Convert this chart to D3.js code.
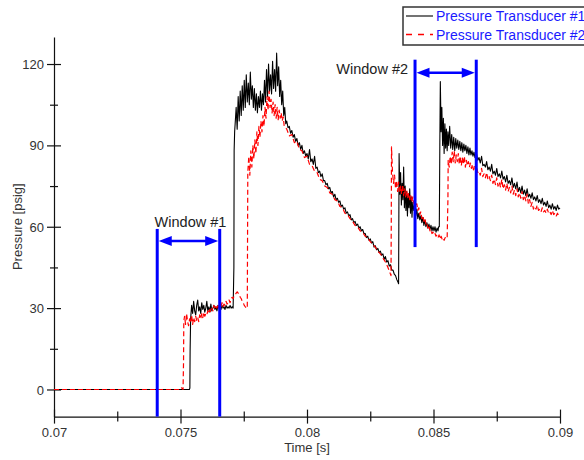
<!DOCTYPE html>
<html>
<head>
<meta charset="utf-8">
<script src="https://cdn.jsdelivr.net/npm/d3@7"></script>
<style>
  html, body { margin: 0; padding: 0; background: #fff; }
  svg { display: block; font-family: "Liberation Sans", Arial, sans-serif; }
</style>
</head>
<body>
<svg id="chart" width="584" height="460"></svg>
<script>
// Pressure traces [time (s), pressure (psig)]
const transducer1 = [
  [0.0700,0],[0.07535,0],[0.07537,0.5],[0.07538,14],[0.07540,26],
  [0.07544,31],[0.07548,28],[0.07552,32.5],[0.07556,29],[0.07560,27.5],[0.07564,31],[0.07568,33],
  [0.07572,29],[0.07576,30.5],[0.07580,28],[0.07584,32],[0.07588,29.5],[0.07592,31],[0.07596,28.5],
  [0.07600,30],[0.07604,32.5],[0.07608,29],[0.07612,30.5],[0.07616,28.5],[0.07620,31.5],[0.07624,29],
  [0.07628,30],[0.07632,31],[0.07636,29.5],[0.07640,30.5],[0.07644,29],[0.07648,31],[0.07652,30],
  [0.07656,30.5],[0.07660,29.5],[0.07664,31],[0.07668,30],[0.07672,30.5],[0.07676,29.5],[0.07680,31],
  [0.07684,30],[0.07688,30.5],[0.07692,30],[0.07696,31],[0.07700,30],[0.07704,30.5],[0.07708,30],
  [0.07711,45],[0.07712,88],[0.07714,95],
  [0.07716,98],[0.07720,104],[0.07724,96],[0.07728,108],[0.07732,99],[0.07736,110],[0.07740,101],
  [0.07744,112],[0.07748,103],[0.07752,114],[0.07756,104],[0.07760,116],[0.07764,106],[0.07768,113],
  [0.07772,105],[0.07776,117],[0.07780,107],[0.07784,112],[0.07788,104],[0.07792,111],[0.07796,103],
  [0.07800,109],[0.07804,102],[0.07808,108],[0.07812,104],[0.07816,110],[0.07820,103],[0.07824,109],
  [0.07828,105],[0.07832,114],[0.07836,106],[0.07840,118],[0.07844,108],[0.07848,120],[0.07852,110],
  [0.07856,116],[0.07860,109],[0.07864,121],[0.07868,111],[0.07872,118],[0.07876,110],[0.07880,124],
  [0.07884,112],[0.07888,119],[0.07892,108],[0.07896,114],[0.07900,105],[0.07904,110],[0.07908,101],
  [0.07912,104],[0.07916,98],
  [0.0792,99],[0.07925,96.5],[0.0793,97],[0.07935,94.5],[0.0794,95.5],[0.07945,93],[0.0795,94],
  [0.07955,91.5],[0.0796,92.5],[0.07965,90],[0.0797,91],[0.07975,88.5],[0.0798,90],[0.07985,87],
  [0.0799,88],[0.07995,86],[0.0800,87],[0.08005,85],[0.0801,88.5],[0.08015,84],[0.0802,85],
  [0.08025,83],[0.0803,86],[0.08035,81.5],[0.0804,82],[0.08045,80],[0.0805,80.5],[0.08055,78.5],
  [0.0806,79.5],[0.08065,77],[0.0807,77],[0.08075,75.5],[0.0808,76],[0.08085,74],[0.0809,74.5],
  [0.08095,72.5],[0.0810,73],[0.08105,71],[0.0811,72],[0.08115,70],[0.0812,70.5],[0.08125,69],
  [0.0813,69.5],[0.08135,67.5],[0.0814,68],[0.08145,66.5],[0.0815,67],[0.08155,65],[0.0816,65.5],
  [0.08165,64],[0.0817,64.5],[0.08175,62.5],[0.0818,63],[0.08185,61.5],[0.0819,62],[0.08195,60.5],
  [0.0820,61],[0.08205,59.5],[0.0821,60],[0.08215,58.5],[0.0822,59],[0.08225,57.5],[0.0823,57.5],
  [0.08235,56],[0.0824,56.5],[0.08245,55],[0.0825,55.5],[0.08255,54],[0.0826,54.5],[0.08265,52.5],
  [0.0827,53],[0.08275,51.5],[0.0828,52],[0.08285,50.5],[0.0829,51],[0.08295,49.5],[0.0830,50],
  [0.08305,48],[0.0831,49],[0.08315,47],[0.0832,47.5],[0.08325,45.5],[0.0833,46],[0.08335,44],
  [0.0834,44],[0.08345,42.5],[0.0835,42],[0.08355,40.5],[0.0836,39.5],[0.08362,39],
  [0.08363,60],[0.08364,87],[0.08367,72],[0.0837,80],[0.08373,68],[0.08376,76],[0.08379,70],
  [0.08382,82],[0.08385,67],[0.08388,75],[0.08391,66],[0.08394,73],[0.08397,64],[0.0840,72],
  [0.08403,67],[0.08406,74],[0.08409,65],[0.08412,71],[0.08415,63.5],[0.08418,69],[0.08422,66],
  [0.08426,68.5],[0.0843,64],[0.08434,66.5],[0.08438,63],[0.08442,65],[0.08446,62.5],[0.0845,64],
  [0.08454,61.5],[0.08458,63.5],[0.08462,60.5],[0.08466,62.5],[0.0847,60],[0.08474,61.5],
  [0.08478,59.5],[0.08482,61],[0.08486,59],[0.0849,60.5],[0.08494,58.5],[0.08498,60],[0.08502,58.5],
  [0.08506,60],[0.0851,58],[0.08514,59.5],[0.08518,58.5],[0.0852,60],
  [0.08523,60],[0.08525,90],[0.08527,113.5],[0.0853,95],[0.08533,104],[0.08536,90],[0.08539,100],
  [0.08542,87],[0.08545,98],[0.08548,89],[0.08551,96],[0.08554,88],[0.08557,95],[0.0856,90],
  [0.08564,97],[0.08568,89],[0.08572,94],[0.08576,88.5],[0.0858,93],[0.08584,88],[0.08588,92.5],
  [0.08592,89],[0.08596,92],[0.086,88.5],[0.08604,91.5],[0.08608,88],[0.08612,91],[0.08616,87.5],
  [0.0862,90.5],[0.08624,88],[0.08628,90],[0.08632,87],[0.08636,89.5],[0.0864,86.5],[0.08644,89],
  [0.08648,86.5],[0.08652,88],[0.08656,86],[0.0866,87.5],[0.08664,85.5],[0.0867,87],[0.08675,84.5],
  [0.0868,85.5],[0.08685,83.5],[0.0869,86],[0.08695,82.5],[0.0870,83],[0.08705,82],[0.0871,84],
  [0.08715,81],[0.0872,82],[0.08725,80.5],[0.0873,83],[0.08735,79.5],[0.0874,80.5],[0.08745,79],
  [0.0875,81.5],[0.08755,78.5],[0.0876,79.5],[0.08765,78],[0.0877,80.5],[0.08775,77.5],[0.0878,78.5],
  [0.08785,76.5],[0.0879,79],[0.08795,76],[0.0880,77],[0.08805,75.5],[0.0881,78],[0.08815,74.5],
  [0.0882,76],[0.08825,74],[0.0883,76.5],[0.08835,73],[0.0884,74.5],[0.08845,72.5],[0.0885,75],
  [0.08855,72],[0.0886,73.5],[0.08865,71.5],[0.0887,74],[0.08875,71],[0.0888,72],[0.08885,70.5],
  [0.0889,72.5],[0.08895,70],[0.0890,71],[0.08905,69.5],[0.0891,71.5],[0.08915,69],[0.0892,70],
  [0.08925,68.5],[0.0893,70.5],[0.08935,68],[0.0894,69],[0.08945,67.5],[0.0895,69.5],[0.08955,67],
  [0.0896,68],[0.08965,66.5],[0.0897,68.5],[0.08975,66.5],[0.0898,67.5],[0.08985,66],[0.0899,68],
  [0.08995,66.5],[0.0900,67]
];

const transducer2 = [
  [0.0700,0],[0.0750,0],[0.07504,0.6],[0.07508,0.3],[0.0751,0],[0.07512,10],[0.07513,25],
  [0.07516,27],[0.0752,24],[0.07524,28],[0.07528,25],[0.07532,23.5],[0.07536,26],[0.0754,24.5],
  [0.07544,27.5],[0.07548,24],[0.07552,26.5],[0.07556,25],[0.0756,27],[0.07564,25.5],[0.07568,26.5],
  [0.07572,25],[0.07576,27.5],[0.0758,26],[0.07584,28],[0.07588,26.5],[0.07592,28.5],[0.07596,27],
  [0.076,28],[0.07604,27.5],[0.07608,29],[0.07612,28],[0.07616,29.5],[0.0762,28.5],[0.07624,30],
  [0.07628,29],[0.07632,31],[0.07636,29.5],[0.0764,30.5],[0.07644,30],[0.07648,31.5],[0.07652,30],
  [0.07656,31],[0.0766,30.5],[0.07664,32],[0.07668,30.5],[0.07672,31.5],[0.07676,31],[0.0768,32.5],
  [0.07684,31.5],[0.07688,32],[0.07692,33],[0.07696,32],[0.077,33.5],[0.07704,34],[0.07708,33.5],
  [0.07712,34.5],[0.07716,35],[0.0772,35.5],[0.07724,36],[0.07728,35.5],[0.07732,35],[0.07736,34],
  [0.0774,33.5],[0.07744,32.5],[0.07748,32],[0.07752,31],[0.07756,30.5],[0.0776,30],
  [0.07764,30],[0.07765,55],[0.07766,80],[0.0777,86],[0.07774,79],[0.07778,88],[0.07782,82],
  [0.07786,90],[0.0779,85],[0.07794,92],[0.07798,87],[0.07802,95],[0.07806,90],[0.0781,97],
  [0.07814,93],[0.07818,99],[0.07822,95],[0.07826,101],[0.0783,97],[0.07834,104],[0.07838,100],
  [0.07842,108],[0.07846,103],[0.0785,110],[0.07854,104],[0.07858,107],[0.07862,102],[0.07866,106],
  [0.0787,101],[0.07874,105],[0.07878,100],[0.07882,104],[0.07886,99.5],[0.0789,103],[0.07894,100],
  [0.07898,102],[0.07902,99],[0.07906,100.5],[0.0791,97],
  [0.0792,96],[0.0793,93.5],[0.0794,94],[0.0795,91],[0.0796,91.5],[0.0797,88.5],[0.0798,88],
  [0.0799,85.5],[0.0800,86],[0.0801,83],[0.0802,82.5],[0.0803,80.5],[0.0804,80],[0.0805,77.5],
  [0.0806,77],[0.0807,75],[0.0808,74.5],[0.0809,72.5],[0.0810,72],[0.0811,70],[0.0812,69.5],
  [0.0813,67.5],[0.0814,67],[0.0815,65],[0.0816,64.5],[0.0817,63],[0.0818,62],[0.0819,60.5],
  [0.0820,60],[0.0821,58.5],[0.0822,58],[0.0823,56.5],[0.0824,56],[0.0825,54.5],[0.0826,53.5],
  [0.0827,52.5],[0.0828,51],[0.0829,50],[0.0830,48.5],[0.0831,47],[0.0832,45],[0.08328,43],
  [0.08332,42],[0.08333,60],[0.08334,89.5],[0.08338,80],[0.08342,76],[0.08346,79],[0.0835,74],
  [0.08354,77],[0.08358,73],[0.08362,76.5],[0.08366,72.5],[0.0837,75],[0.08374,72],[0.08378,75.5],
  [0.08382,71.5],[0.08386,74],[0.0839,71],[0.08394,73.5],[0.08398,70.5],[0.08402,72.5],[0.08406,70],
  [0.0841,71.5],[0.08414,69],[0.08418,71],[0.08422,68.5],[0.08426,70],[0.0843,67.5],[0.08434,68.5],
  [0.08438,66],[0.08442,67],[0.08446,64.5],[0.0845,65.5],[0.08454,63],[0.08458,64],[0.08462,62],
  [0.08466,63],[0.0847,61],[0.08474,61.5],[0.08478,59.5],[0.08482,60.5],[0.08486,58.5],[0.0849,59],
  [0.08494,57.5],[0.08498,58],[0.08502,57],[0.08506,57.5],[0.0851,56.5],[0.08514,57],[0.08518,56],
  [0.08522,57],[0.08526,55.5],[0.0853,56.5],[0.08534,55.5],[0.08538,56],[0.08542,55],[0.08546,56],
  [0.0855,55.5],[0.08554,56],[0.08557,70],[0.08558,84.5],
  [0.08562,82],[0.08566,86],[0.0857,83],[0.08574,87.5],[0.08578,84],[0.08582,88],[0.08586,83.5],
  [0.0859,86.5],[0.08594,84],[0.08598,87],[0.08602,83],[0.08606,86],[0.0861,82.5],[0.08614,85.5],
  [0.08618,83],[0.08622,86],[0.08626,82],[0.0863,84.5],[0.08634,82.5],[0.08638,84],[0.08642,82],
  [0.08646,83.5],[0.0865,81.5],[0.08654,83],[0.08658,81],[0.08662,82.5],[0.08666,81],[0.0867,82],
  [0.08675,80],[0.0868,80.5],[0.08685,79],[0.0869,81.5],[0.08695,78.5],[0.0870,79.5],[0.08705,78],
  [0.0871,80],[0.08715,77.5],[0.0872,78.5],[0.08725,77],[0.0873,79],[0.08735,76],[0.0874,77.5],
  [0.08745,75.5],[0.0875,78],[0.08755,75],[0.0876,76.5],[0.08765,74.5],[0.0877,77.5],[0.08775,74],
  [0.0878,75.5],[0.08785,73.5],[0.0879,76],[0.08795,73],[0.0880,74.5],[0.08805,72.5],[0.0881,75],
  [0.08815,72],[0.0882,73.5],[0.08825,71.5],[0.0883,74],[0.08835,71],[0.0884,72.5],[0.08845,70.5],
  [0.0885,73],[0.08855,70],[0.0886,71.5],[0.08865,69.5],[0.0887,72],[0.08875,68.5],[0.0888,70],
  [0.08885,67.5],[0.0889,69],[0.08895,66.5],[0.0890,67.5],[0.08905,66.5],[0.0891,68],[0.08915,66],
  [0.0892,66.5],[0.08925,65.5],[0.0893,67],[0.08935,65.5],[0.0894,66],[0.08945,65],[0.0895,66.5],
  [0.08955,65],[0.0896,65.5],[0.08965,64.5],[0.0897,66],[0.08975,64.5],[0.0898,65],[0.08985,64],
  [0.0899,65],[0.08995,64],[0.0900,64.5]
];

const seriesNames = ["Pressure Transducer #1", "Pressure Transducer #2"];
const xMajorTicks = [0.07, 0.075, 0.08, 0.085, 0.09];
const xMinorTicks = [0.0725, 0.0775, 0.0825, 0.0875];
const yMajorTicks = [0, 30, 60, 90, 120];
const yMinorTicks = [15, 45, 75, 105];

// Sampling windows: time bounds and vertical extent of the marker lines (psig)
const windowNames = ["Window #1", "Window #2"];
const windowStart = [0.07408, 0.08427];
const windowEnd = [0.07655, 0.08669];
const windowBottom = [-10, 52.5];
const windowTop = [59.2, 121.6];
const windowArrow = [54.7, 116.8];

const svg = d3.select("#chart");
const x = d3.scaleLinear().domain([0.07, 0.09]).range([54, 560]);
const y = d3.scaleLinear().domain([-10, 130]).range([416.6, 36.9]);

const axisColor = "#111";
const labelColor = "#333";

// X axis
const xAxis = svg.append("g").attr("transform", `translate(0,${y(-10)})`)
  .call(d3.axisBottom(x).tickValues(xMajorTicks).tickSize(0).tickPadding(0)
    .tickFormat(d => d3.format("")(+d.toFixed(3))));
xAxis.select(".domain").attr("stroke", axisColor).attr("stroke-width", 1.2);
xAxis.selectAll(".tick line").attr("y1", -7).attr("y2", 7).attr("stroke", axisColor).attr("stroke-width", 1.2);
xAxis.selectAll(".tick text").attr("y", 20).attr("dy", 0)
  .attr("fill", labelColor).attr("font-size", 13).attr("font-family", "Liberation Sans, Arial, sans-serif");
const xMinor = svg.append("g").attr("transform", `translate(0,${y(-10)})`)
  .call(d3.axisBottom(x).tickValues(xMinorTicks).tickSize(0).tickFormat(""));
xMinor.select(".domain").remove();
xMinor.selectAll(".tick line").attr("y1", -5).attr("y2", 5).attr("stroke", axisColor).attr("stroke-width", 1.2);

// Y axis
const yAxis = svg.append("g").attr("transform", `translate(${x(0.07)},0)`)
  .call(d3.axisLeft(y).tickValues(yMajorTicks).tickSize(0).tickPadding(0));
yAxis.select(".domain").attr("stroke", axisColor).attr("stroke-width", 1.2);
yAxis.selectAll(".tick line").attr("x1", -7).attr("x2", 7).attr("stroke", axisColor).attr("stroke-width", 1.2);
yAxis.selectAll(".tick text").attr("x", -10).attr("dy", "0.35em")
  .attr("fill", labelColor).attr("font-size", 13).attr("font-family", "Liberation Sans, Arial, sans-serif");
const yMinor = svg.append("g").attr("transform", `translate(${x(0.07)},0)`)
  .call(d3.axisLeft(y).tickValues(yMinorTicks).tickSize(0).tickFormat(""));
yMinor.select(".domain").remove();
yMinor.selectAll(".tick line").attr("x1", -4).attr("x2", 4).attr("stroke", axisColor).attr("stroke-width", 1.2);

// Axis titles
svg.append("text").attr("x", 307).attr("y", 452).attr("text-anchor", "middle")
  .attr("font-size", 13).attr("fill", labelColor).text("Time [s]");
svg.append("text").attr("transform", `translate(22,${y(60)}) rotate(-90)`).attr("text-anchor", "middle")
  .attr("font-size", 13).attr("fill", labelColor).text("Pressure [psig]");

// Traces
const line = d3.line().x(d => x(d[0])).y(d => y(d[1]));
svg.append("path").datum(transducer1).attr("d", line)
  .attr("fill", "none").attr("stroke", "#000").attr("stroke-width", 1.1).attr("stroke-linejoin", "round");
svg.append("path").datum(transducer2).attr("d", line)
  .attr("fill", "none").attr("stroke", "#ff0000").attr("stroke-width", 1.2)
  .attr("stroke-dasharray", "5,3").attr("stroke-linejoin", "round");

// Window markers
const blue = "#0000ff";
windowNames.forEach((name, i) => {
  const g = svg.append("g");
  [windowStart[i], windowEnd[i]].forEach(t => {
    g.append("line").attr("x1", x(t)).attr("x2", x(t))
      .attr("y1", y(windowBottom[i])).attr("y2", y(windowTop[i]))
      .attr("stroke", blue).attr("stroke-width", 3);
  });
  const xa = x(windowStart[i]) + 1.5, xb = x(windowEnd[i]) - 1.5, ya = y(windowArrow[i]);
  const head = 13, half = 5;
  g.append("line").attr("x1", xa + head - 2).attr("x2", xb - head + 2).attr("y1", ya).attr("y2", ya)
    .attr("stroke", blue).attr("stroke-width", 2.5);
  g.append("path").attr("d", `M${xa},${ya}L${xa + head},${ya - half}L${xa + head},${ya + half}Z`).attr("fill", blue);
  g.append("path").attr("d", `M${xb},${ya}L${xb - head},${ya - half}L${xb - head},${ya + half}Z`).attr("fill", blue);
});
svg.append("text").attr("x", (x(windowStart[0]) + x(windowEnd[0])) / 2 + 2).attr("y", 227)
  .attr("text-anchor", "middle").attr("font-size", 14.5).attr("fill", "#222").text(windowNames[0]);
svg.append("text").attr("x", x(windowStart[1]) - 7).attr("y", 74)
  .attr("text-anchor", "end").attr("font-size", 14.5).attr("fill", "#222").text(windowNames[1]);

// Legend
const legend = svg.append("g");
legend.append("rect").attr("x", 403).attr("y", 7).attr("width", 200).attr("height", 38)
  .attr("fill", "#fff").attr("stroke", "#333").attr("stroke-width", 1.5);
const legendStyles = [{ color: "#000", dash: null, w: 1.1 }, { color: "#ff0000", dash: "6,6", w: 1.4 }];
seriesNames.forEach((name, i) => {
  const ly = 16 + i * 18.5;
  legend.append("line").attr("x1", 406).attr("x2", 433).attr("y1", ly).attr("y2", ly)
    .attr("stroke", legendStyles[i].color).attr("stroke-width", legendStyles[i].w)
    .attr("stroke-dasharray", legendStyles[i].dash);
  legend.append("text").attr("x", 436).attr("y", ly).attr("dy", "0.36em")
    .attr("font-size", 14).attr("fill", "#1a1aff").text(name);
});
</script>
</body>
</html>
